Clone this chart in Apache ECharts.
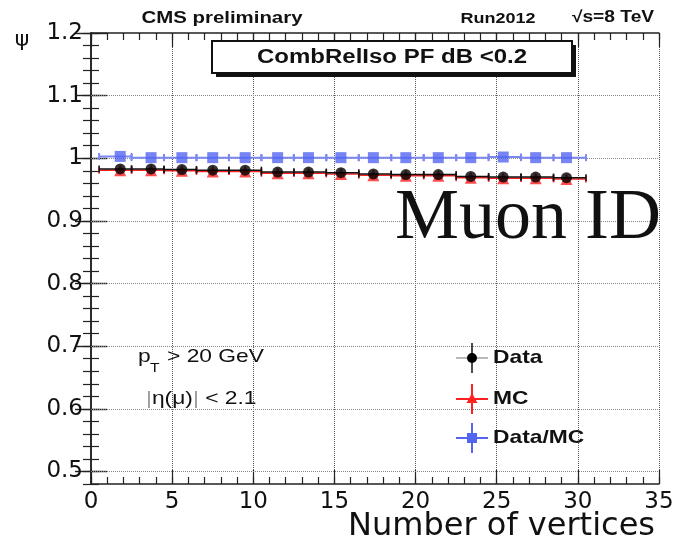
<!DOCTYPE html>
<html><head><meta charset="utf-8">
<script src="https://cdn.jsdelivr.net/npm/echarts@6/dist/echarts.min.js"></script>
<style>html,body{margin:0;padding:0;background:#fff}#c{width:677px;height:543px}</style>
</head><body><div id="c"></div>
<script>
// ---- data ----
const xCenters = [1.8, 3.7, 5.6, 7.5, 9.5, 11.5, 13.4, 15.4, 17.4, 19.4, 21.4, 23.4, 25.4, 27.4, 29.3];
const binLow   = [0.5, 2.5, 4.5, 6.5, 8.5, 10.5, 12.5, 14.5, 16.5, 18.5, 20.5, 22.5, 24.5, 26.5, 28.5];
const binHigh  = [2.5, 4.5, 6.5, 8.5, 10.5, 12.5, 14.5, 16.5, 18.5, 20.5, 22.5, 24.5, 26.5, 28.5, 30.5];
const dataEff  = [0.983, 0.983, 0.982, 0.981, 0.981, 0.978, 0.978, 0.977, 0.975, 0.974, 0.974, 0.971, 0.970, 0.970, 0.969];
const mcEff    = [0.981, 0.981, 0.980, 0.979, 0.979, 0.976, 0.976, 0.975, 0.973, 0.972, 0.972, 0.969, 0.968, 0.968, 0.967];
const ratioEff = [1.003, 1.001, 1.001, 1.001, 1.001, 1.001, 1.001, 1.001, 1.001, 1.001, 1.001, 1.001, 1.002, 1.001, 1.001];
const yGridValues = [0.5, 0.6, 0.7, 0.8, 0.9, 1.0, 1.1];
const yMajorTicks = [0.5, 0.6, 0.7, 0.8, 0.9, 1.0, 1.1, 1.2];

const SANS = 'DejaVu Sans';

function rows(vals){ return xCenters.map((x,i)=>[x, vals[i], binLow[i], binHigh[i]]); }
function errRender(color, lw){
  return function(params, api){
    const y = api.value(1), lo = api.value(2), hi = api.value(3);
    const p0 = api.coord([lo, y]), p1 = api.coord([hi, y]);
    const st = {stroke: color, lineWidth: lw};
    return {type:'group', children:[
      {type:'line', shape:{x1:p0[0], y1:p0[1], x2:p1[0], y2:p1[1]}, style: st},
      {type:'line', shape:{x1:p0[0], y1:p0[1]-3.5, x2:p0[0], y2:p0[1]+3.5}, style: st},
      {type:'line', shape:{x1:p1[0], y1:p1[1]-3.5, x2:p1[0], y2:p1[1]+3.5}, style: st}
    ]};
  };
}
const yFmt = v => {
  const t = v*10;
  if (Math.abs(t - Math.round(t)) > 1e-6) return '';
  return String(Number(v.toFixed(1)));
};
const frameLine = {show:true, lineStyle:{color:'#222', width:1.5}};
const yBase = {type:'value', min:0.48, max:1.2, splitLine:{show:false}};
const xMinor = pos => ({type:'value', position:pos, min:0, max:35, interval:1,
  axisLine:{show:false}, axisLabel:{show:false}, splitLine:{show:false},
  axisTick:{show:true, inside:true, length:7, lineStyle:{color:'#222', width:1.2}}});

const chart = echarts.init(document.getElementById('c'), null, {renderer:'canvas'});
chart.setOption({
  animation:false,
  backgroundColor:'#fff',
  grid:{left:91, right:18, top:33, bottom:59, containLabel:false, outerBoundsMode:'none'},
  xAxis:[
    {type:'value', position:'bottom', min:0, max:35, interval:5,
     axisLine: frameLine,
     axisTick:{show:true, inside:true, length:14, lineStyle:{color:'#222', width:1.2}},
     axisLabel:{fontFamily:SANS, fontSize:23, color:'#111', margin:7},
     splitLine:{show:true, lineStyle:{type:'dotted', color:'#555', width:1}},
     name:'Number of vertices', nameLocation:'end', nameGap:-4, nameMoveOverlap:false,
     nameTextStyle:{fontFamily:SANS, fontSize:32, color:'#111', align:'right', verticalAlign:'top', padding:[27,0,0,0]}
    },
    {type:'value', position:'top', min:0, max:35, interval:5,
     axisLine: frameLine,
     axisTick:{show:true, inside:true, length:14, lineStyle:{color:'#222', width:1.2}},
     axisLabel:{show:false}, splitLine:{show:false}},
    xMinor('bottom'),
    xMinor('top')
  ],
  yAxis:[
    Object.assign({}, yBase, {position:'left', interval:0.02, axisLine: frameLine,
      axisTick:{show:true, inside:true, length:8, lineStyle:{color:'#222', width:1.2}},
      axisLabel:{formatter:yFmt, fontFamily:SANS, fontSize:23, color:'#111', margin:8}}),
    Object.assign({}, yBase, {position:'left', offset:0, axisLine:{show:false},
      axisTick:{show:true, inside:true, length:16, customValues:yMajorTicks, lineStyle:{color:'#222', width:1.4}},
      axisLabel:{show:false}}),
    Object.assign({}, yBase, {position:'right', interval:0.02, axisLine: frameLine,
      axisTick:{show:true, inside:true, length:8, lineStyle:{color:'#222', width:1.2}},
      axisLabel:{show:false}}),
    Object.assign({}, yBase, {position:'right', offset:0, axisLine:{show:false},
      axisTick:{show:true, inside:true, length:16, customValues:yMajorTicks, lineStyle:{color:'#222', width:1.4}},
      axisLabel:{show:false}})
  ],
  series:[
    {type:'line', data:[], z:1, silent:true,
     markLine:{silent:true, symbol:'none', label:{show:false},
       lineStyle:{type:'dotted', color:'#888', width:1},
       data: yGridValues.map(v=>({yAxis:v}))}},
    {type:'custom', name:'MC bars', renderItem: errRender('#ff2020', 1.5), data: rows(mcEff), encode:{x:0,y:1}, z:3, clip:false},
    {type:'scatter', name:'MC', data: rows(mcEff).map(r=>[r[0],r[1]]), symbol:'triangle', symbolSize:12, itemStyle:{color:'#ff2020'}, z:4},
    {type:'custom', name:'Data bars', renderItem: errRender('#111', 1.5), data: rows(dataEff), encode:{x:0,y:1}, z:5, clip:false},
    {type:'scatter', name:'Data', data: rows(dataEff).map(r=>[r[0],r[1]]), symbol:'circle', symbolSize:11, itemStyle:{color:'#000'}, z:6},
    {type:'custom', name:'Ratio bars', renderItem: errRender('#7b88f2', 2), data: rows(ratioEff), encode:{x:0,y:1}, z:7, clip:false},
    {type:'scatter', name:'Data/MC', data: rows(ratioEff).map(r=>[r[0],r[1]]), symbol:'rect', symbolSize:11, itemStyle:{color:'#5466f0'}, z:8}
  ],
  graphic:[
    {type:'text', x:222, y:18, scaleX:1.2, z:100, style:{text:'CMS preliminary', font:'bold 17px "Liberation Sans"', fill:'#111', textAlign:'center', textVerticalAlign:'middle'}},
    {type:'text', x:498, y:19, scaleX:1.2, z:100, style:{text:'Run2012', font:'bold 15px "Liberation Sans"', fill:'#111', textAlign:'center', textVerticalAlign:'middle'}},
    {type:'text', x:613, y:18, scaleX:1.2, z:100, style:{text:'\u221As=8 TeV', font:'bold 16px "Liberation Sans"', fill:'#111', textAlign:'center', textVerticalAlign:'middle'}},
    {type:'text', x:22, y:40, z:100, style:{text:'\u03C8', font:'22px "DejaVu Sans"', fill:'#111', textAlign:'center', textVerticalAlign:'middle'}},
    {type:'rect', z:100, shape:{x:216, y:45, width:360, height:32}, style:{fill:'#111'}},
    {type:'rect', z:101, shape:{x:212, y:41, width:360, height:32}, style:{fill:'#fff', stroke:'#111', lineWidth:2}},
    {type:'text', x:392, y:57, scaleX:1.2, z:102, style:{text:'CombRelIso PF dB <0.2', font:'bold 20px "Liberation Sans"', fill:'#111', textAlign:'center', textVerticalAlign:'middle'}},
    {type:'text', x:395, y:219, z:100, style:{text:'Muon ID', font:'72px "Liberation Serif"', fill:'#111', textAlign:'left', textVerticalAlign:'middle'}},
    {type:'text', x:138, y:357, scaleX:1.2, z:100, style:{text:'p', font:'19px "Liberation Sans"', fill:'#111', textAlign:'left', textVerticalAlign:'middle'}},
    {type:'text', x:150, y:368, scaleX:1.2, z:100, style:{text:'T', font:'13px "Liberation Sans"', fill:'#111', textAlign:'left', textVerticalAlign:'middle'}},
    {type:'text', x:167, y:357, scaleX:1.2, z:100, style:{text:'> 20 GeV', font:'19px "Liberation Sans"', fill:'#111', textAlign:'left', textVerticalAlign:'middle'}},
    {type:'text', x:146, y:399, scaleX:1.2, z:100, style:{text:'{g||}{a|\u03B7(\u03BC)}{g||}{a| < 2.1}', font:'19px "Liberation Sans"', fill:'#111', textAlign:'left', textVerticalAlign:'middle',
      rich:{a:{font:'19px "Liberation Sans"', fill:'#111'}, g:{font:'19px "Liberation Sans"', fill:'#999'}}}},
    {type:'line', z:100, shape:{x1:456, y1:358, x2:488, y2:358}, style:{stroke:'#b5bcb5', lineWidth:2}},
    {type:'line', z:100, shape:{x1:472, y1:343, x2:472, y2:373}, style:{stroke:'#111', lineWidth:1.5}},
    {type:'circle', z:101, shape:{cx:472, cy:358, r:5}, style:{fill:'#000'}},
    {type:'text', x:493, y:358, scaleX:1.2, z:100, style:{text:'Data', font:'bold 19px "Liberation Sans"', fill:'#111', textAlign:'left', textVerticalAlign:'middle'}},
    {type:'line', z:100, shape:{x1:456, y1:399, x2:488, y2:399}, style:{stroke:'#ff2020', lineWidth:2}},
    {type:'line', z:100, shape:{x1:472, y1:384, x2:472, y2:414}, style:{stroke:'#ff2020', lineWidth:2}},
    {type:'polygon', z:101, shape:{points:[[472,393],[477.5,403],[466.5,403]]}, style:{fill:'#ff2020'}},
    {type:'text', x:493, y:399, scaleX:1.2, z:100, style:{text:'MC', font:'bold 19px "Liberation Sans"', fill:'#111', textAlign:'left', textVerticalAlign:'middle'}},
    {type:'line', z:100, shape:{x1:456, y1:438, x2:488, y2:438}, style:{stroke:'#5466f0', lineWidth:2}},
    {type:'line', z:100, shape:{x1:472, y1:423, x2:472, y2:453}, style:{stroke:'#5466f0', lineWidth:2}},
    {type:'rect', z:101, shape:{x:467, y:433, width:10, height:10}, style:{fill:'#5466f0'}},
    {type:'text', x:493, y:438, scaleX:1.2, z:100, style:{text:'Data/MC', font:'bold 19px "Liberation Sans"', fill:'#111', textAlign:'left', textVerticalAlign:'middle'}}
  ]
});
</script>
</body></html>
